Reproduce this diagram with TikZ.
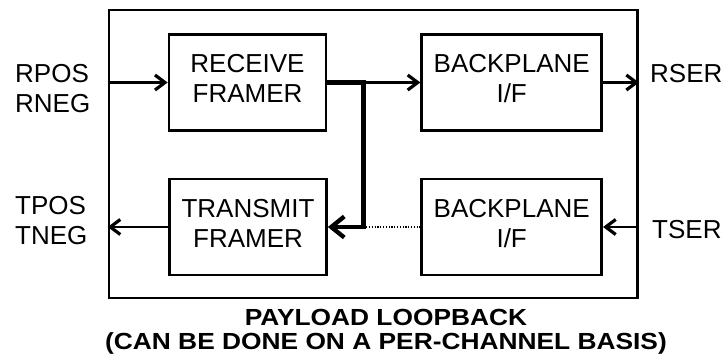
\documentclass[tikz,border=0pt]{standalone}
\usepackage{fontspec}
\setmainfont{Liberation Sans}
\newfontfamily\titlefont[FakeStretch=1.13]{Liberation Sans}
\usepackage{tikz}
\usetikzlibrary{positioning, calc, arrows.meta}

\begin{document}
\begin{tikzpicture}[x=1pt, y=-1pt,
	every node/.style={font=\fontsize{26}{30}\selectfont},
	blockbox/.style={draw, line width=2.7pt, minimum width=157pt, minimum height=96pt, inner sep=0pt, align=center, text depth=8pt},
	thinarrow/.style={line width=2.5pt, -{Straight Barb[length=10pt,width=15pt,line width=3.2pt]}},
	thickarrow/.style={line width=4.3pt, -{Straight Barb[length=13pt,width=21pt,line width=4.3pt]}},
	sidelabel/.style={anchor=west, inner sep=0pt, align=left}]
	\useasboundingbox (0,0) rectangle (725,360);
	\pgfmathsetmacro{\bpw}{180}
	\node[draw, line width=2.7pt, inner sep=0pt, minimum width=528.7pt, minimum height=288pt] (frame) at (373.3,154) {};
	\node[blockbox] (rxfr) at (247.5,82.5) {RECEIVE\\FRAMER};
	\node[blockbox, minimum width=\bpw pt] (bprx) at (511.7,82.5) {BACKPLANE\\I/F};
	\node[blockbox] (txfr) at (248,227) {TRANSMIT\\FRAMER};
	\node[blockbox, minimum width=\bpw pt] (bptx) at (511.7,227) {BACKPLANE\\I/F};
	\coordinate (jtop) at ($(rxfr.east)+(36,0)$);
	\coordinate (jbot) at (jtop |- txfr.east);
	\draw[thinarrow] (frame.west |- rxfr.west) -- (rxfr.west);
	\draw[thinarrow] (jtop) -- (bprx.west);
	\draw[thickarrow] (rxfr.east) -- (jtop) -- (jbot) -- (txfr.east);
	\draw[line width=1.3pt, dash pattern=on 1.3pt off 1.5pt] (jbot) -- (bptx.west);
	\draw[thinarrow] (bprx.east) -- (frame.east |- bprx.east);
	\draw[thinarrow] (frame.east |- bptx.east) -- (bptx.east);
	\draw[thinarrow] (txfr.west) -- (frame.west |- txfr.west);
	\node[sidelabel] (rpos) at (15,89) {RPOS\\RNEG};
	\node[sidelabel] (tpos) at (15,221) {TPOS\\TNEG};
	\node[sidelabel] (rser) at (650,74) {RSER};
	\node[sidelabel] (tser) at (652,229.5) {TSER};
	\node[anchor=north, inner sep=0pt, align=center, font=\titlefont\fontsize{23.3}{24}\selectfont\bfseries] (title) at (386,309.5) {PAYLOAD LOOPBACK\\(CAN BE DONE ON A PER-CHANNEL BASIS)};
\end{tikzpicture}
\end{document}
